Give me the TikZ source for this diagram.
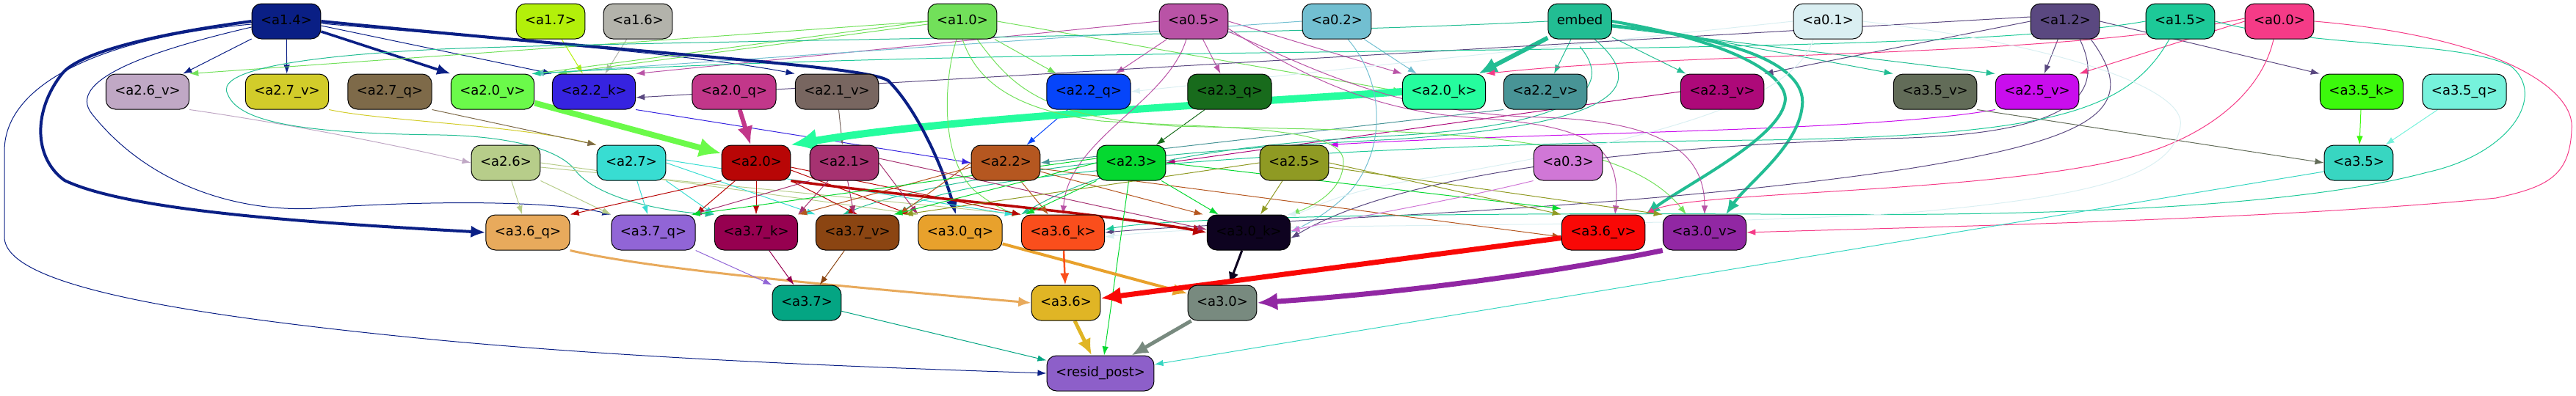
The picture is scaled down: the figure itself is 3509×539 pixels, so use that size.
\documentclass[tikz,border=0pt]{standalone}
\usepackage{fontspec}
\setmainfont{DejaVu Sans}
\usetikzlibrary{arrows.meta,backgrounds}
\definecolor{k14}{HTML}{0A1F85}\definecolor{k17}{HTML}{B3F00A}\definecolor{k16}{HTML}{B3B3AB}
\definecolor{k10}{HTML}{72E05A}\definecolor{k05}{HTML}{B953A6}\definecolor{k02}{HTML}{72BFD1}
\definecolor{kemb}{HTML}{22BD93}\definecolor{k01}{HTML}{DAEFF2}\definecolor{k12}{HTML}{5A4880}
\definecolor{k15}{HTML}{1DC998}\definecolor{k00}{HTML}{F53B87}
\definecolor{k26v}{HTML}{C0A8C5}\definecolor{k27v}{HTML}{D2CC2A}\definecolor{k27q}{HTML}{7E6A49}
\definecolor{k20v}{HTML}{6BFA4A}\definecolor{k22k}{HTML}{3623E0}\definecolor{k20q}{HTML}{C2378A}
\definecolor{k21v}{HTML}{786660}\definecolor{k22q}{HTML}{0645FA}\definecolor{k23q}{HTML}{186B1C}
\definecolor{k20k}{HTML}{25FD9E}\definecolor{k22v}{HTML}{489496}\definecolor{k23v}{HTML}{AD0979}
\definecolor{k35v}{HTML}{626C58}\definecolor{k25v}{HTML}{C90DED}\definecolor{k35k}{HTML}{3CF90C}
\definecolor{k35q}{HTML}{76F2DC}
\definecolor{k26}{HTML}{B7CD8A}\definecolor{k27}{HTML}{38DDD2}\definecolor{k20}{HTML}{B80606}
\definecolor{k21}{HTML}{A63271}\definecolor{k22}{HTML}{B55720}\definecolor{k23}{HTML}{05D830}
\definecolor{k25}{HTML}{8F9A23}\definecolor{k03}{HTML}{D077D6}\definecolor{k35}{HTML}{38D6C1}
\definecolor{k36q}{HTML}{E8AA5C}\definecolor{k37q}{HTML}{9165D6}\definecolor{k37k}{HTML}{960050}
\definecolor{k37v}{HTML}{8B4512}\definecolor{k30q}{HTML}{E8A12C}\definecolor{k36k}{HTML}{FA4E1C}
\definecolor{k30k}{HTML}{0E0320}\definecolor{k36v}{HTML}{F90806}\definecolor{k30v}{HTML}{9127A3}
\definecolor{k37}{HTML}{04A583}\definecolor{k36}{HTML}{E0B525}\definecolor{k30}{HTML}{788A7F}
\definecolor{kres}{HTML}{8D5FC9}
\tikzset{
 nd/.style={draw=black, line width=1pt, rounded corners=13pt, minimum height=48pt,
   inner xsep=12pt, inner ysep=0pt, text height=13.5pt, text depth=4pt,
   font=\fontsize{18}{21}\selectfont, text=black},
 ed/.style={line width=1pt, -{Latex[length=9.5pt 2.6, width=6pt 2.6]}},
}
\begin{document}
\begin{tikzpicture}[x=1pt,y=-1pt]
\useasboundingbox (0,0) rectangle (3509,539);
% row 1
\node[nd,fill=k14] (a14) at (390,29) {<a1.4>};
\node[nd,fill=k17] (a17) at (750,29) {<a1.7>};
\node[nd,fill=k16] (a16) at (869,29) {<a1.6>};
\node[nd,fill=k10] (a10) at (1311,29) {<a1.0>};
\node[nd,fill=k05] (a05) at (1626,29) {<a0.5>};
\node[nd,fill=k02] (a02) at (1821,29) {<a0.2>};
\node[nd,fill=kemb] (emb) at (2152,29) {embed};
\node[nd,fill=k01] (a01) at (2490,29) {<a0.1>};
\node[nd,fill=k12] (a12) at (2813,29) {<a1.2>};
\node[nd,fill=k15] (a15) at (2970,29) {<a1.5>};
\node[nd,fill=k00] (a00) at (3105,29) {<a0.0>};
% row 2
\node[nd,fill=k26v] (a26v) at (201,125) {<a2.6\_v>};
\node[nd,fill=k27v] (a27v) at (391,125) {<a2.7\_v>};
\node[nd,fill=k27q] (a27q) at (531,125) {<a2.7\_q>};
\node[nd,fill=k20v] (a20v) at (671,125) {<a2.0\_v>};
\node[nd,fill=k22k] (a22k) at (809,125) {<a2.2\_k>};
\node[nd,fill=k20q] (a20q) at (1000,125) {<a2.0\_q>};
\node[nd,fill=k21v] (a21v) at (1140,125) {<a2.1\_v>};
\node[nd,fill=k22q] (a22q) at (1483,125) {<a2.2\_q>};
\node[nd,fill=k23q] (a23q) at (1675,125) {<a2.3\_q>};
\node[nd,fill=k20k] (a20k) at (1967,125) {<a2.0\_k>};
\node[nd,fill=k22v] (a22v) at (2105,125) {<a2.2\_v>};
\node[nd,fill=k23v] (a23v) at (2346,125) {<a2.3\_v>};
\node[nd,fill=k35v] (a35v) at (2636,125) {<a3.5\_v>};
\node[nd,fill=k25v] (a25v) at (2775,125) {<a2.5\_v>};
\node[nd,fill=k35k] (a35k) at (3217,125) {<a3.5\_k>};
\node[nd,fill=k35q] (a35q) at (3357,125) {<a3.5\_q>};
% row 3
\node[nd,fill=k26] (a26) at (689,222) {<a2.6>};
\node[nd,fill=k27] (a27) at (860,222) {<a2.7>};
\node[nd,fill=k20] (a20) at (1030,222) {<a2.0>};
\node[nd,fill=k21] (a21) at (1150,222) {<a2.1>};
\node[nd,fill=k22] (a22) at (1370,222) {<a2.2>};
\node[nd,fill=k23] (a23) at (1541,222) {<a2.3>};
\node[nd,fill=k25] (a25) at (1763,222) {<a2.5>};
\node[nd,fill=k03] (a03) at (2136,222) {<a0.3>};
\node[nd,fill=k35] (a35) at (3213,222) {<a3.5>};
% row 4
\node[nd,fill=k36q] (a36q) at (719,317) {<a3.6\_q>};
\node[nd,fill=k37q] (a37q) at (890,317) {<a3.7\_q>};
\node[nd,fill=k37k] (a37k) at (1030,317) {<a3.7\_k>};
\node[nd,fill=k37v] (a37v) at (1168,317) {<a3.7\_v>};
\node[nd,fill=k30q] (a30q) at (1308,317) {<a3.0\_q>};
\node[nd,fill=k36k] (a36k) at (1448,317) {<a3.6\_k>};
\node[nd,fill=k30k] (a30k) at (1701,317) {<a3.0\_k>};
\node[nd,fill=k36v] (a36v) at (2184,317) {<a3.6\_v>};
\node[nd,fill=k30v] (a30v) at (2322,317) {<a3.0\_v>};
% row 5
\node[nd,fill=k37] (a37) at (1099,413) {<a3.7>};
\node[nd,fill=k36] (a36) at (1452,413) {<a3.6>};
\node[nd,fill=k30] (a30) at (1665,413) {<a3.0>};
% row 6
\node[nd,fill=kres] (res) at (1499,509) {<resid\_post>};

\begin{scope}[on background layer]
% ---- row 1 -> row 2
\draw[ed,k14] (a14) -- (a26v);
\draw[ed,k14] (a14) -- (a27v);
\draw[ed,k14,line width=3.5pt] ([yshift=-14pt]a14.east) -- (a20v.north west);
\draw[ed,k14] ([yshift=-6pt]a14.east) -- (a22k.north west);
\draw[ed,k14] ([yshift=-3pt]a14.east) .. controls (700,55) and (950,75) .. (a21v.north west);
\draw[ed,k17] (a17) -- (a22k);
\draw[ed,k16] (a16) -- (a22k);
\draw[ed,k10] (a10.west) -- (a26v.north east);
\draw[ed,k10] (a10.west) -- (a20v.north east);
\draw[ed,k10] ([yshift=-4pt]a10.west) -- ([xshift=8pt]a22k.north west);
\draw[ed,k10] (a10) -- (a22q);
\draw[ed,k10] (a10.east) -- (a20k.west);
\draw[ed,k05] (a05.west) -- (a22k.north east);
\draw[ed,k05] (a05) -- (a22q);
\draw[ed,k05] (a05) -- (a23q);
\draw[ed,k05] (a05.east) -- (a20k.north west);
\draw[ed,k02] (a02.west) -- (a20v.north east);
\draw[ed,k02] (a02) -- (a20k);
\draw[ed,k01] (a01.west) -- (a22q.east);
\draw[ed,kemb,line width=6pt] (emb) -- (a20k);
\draw[ed,kemb] (emb) -- (a22v);
\draw[ed,kemb] (emb) -- (a23v);
\draw[ed,kemb] (emb.east) -- (a35v.north west);
\draw[ed,kemb] ([yshift=-8pt]emb.east) -- (a25v.north west);
\draw[ed,k12] (a12) -- (a25v);
\draw[ed,k12] (a12.west) -- (a23v.north east);
\draw[ed,k12] ([yshift=6pt]a12.west) -- ([yshift=-8pt]a22k.east);
\draw[ed,k12] (a12.east) -- (a35k.north west);
\draw[ed,k00] (a00.west) -- (a25v.north east);
\draw[ed,k00] ([yshift=4pt]a00.west) .. controls (2800,80) and (2300,70) .. (a20k.north east);
\draw[ed,k15] (a15.west) .. controls (2600,85) and (1500,55) .. ([xshift=-4pt]a20v.north east);
% ---- row 2 -> row 3
\draw[ed,k26v] (a26v.south east) .. controls (400,170) and (550,200) .. (a26.west);
\draw[ed,k27v] (a27v.south east) .. controls (520,165) and (700,170) .. (a27.north west);
\draw[ed,k27q] (a27q.south east) -- (a27.north west);
\draw[ed,k20v,line width=8pt] (a20v) -- (a20);
\draw[ed,k22k] (a22k.south east) -- (a22.west);
\draw[ed,k20q,line width=6pt] (a20q) -- (a20);
\draw[ed,k21v] (a21v) -- (a21);
\draw[ed,k22q] (a22q) -- (a22);
\draw[ed,k23q] (a23q) -- (a23);
\draw[ed,k20k,line width=10pt] (a20k.west) .. controls (1700,140) and (1300,160) .. (a20.north east);
\draw[ed,k22v] (a22v.south west) -- (a22.east);
\draw[ed,k23v] (a23v.west) -- (a23.east);
\draw[ed,k25v] (a25v.south west) .. controls (2550,180) and (2100,180) .. (a25.north east);
\draw[ed,k35v] (a35v.south east) -- (a35.west);
\draw[ed,k35k] (a35k) -- (a35);
\draw[ed,k35q] (a35q) -- (a35);
% ---- row 1 -> lower rows (long)
\draw[ed,k14,line width=4pt] (a14.east) .. controls (900,75) and (1180,90) .. (1210,110) .. controls (1250,150) and (1285,230) .. ([xshift=-6pt]a30q.north);
\draw[ed,k14,line width=4pt] (a14.west) .. controls (220,45) and (110,70) .. (85,100) .. controls (45,150) and (45,215) .. (88,246) .. controls (180,290) and (450,305) .. (a36q.west);
\draw[ed,k14] ([yshift=-8pt]a14.west) .. controls (200,70) and (90,110) .. (125,155) .. controls (200,250) and (320,290) .. (430,284) .. controls (600,272) and (760,275) .. (a37q.north west);
\draw[ed,k14] ([yshift=-4pt]a14.west) .. controls (150,50) and (6,110) .. (6,206) -- (6,323) .. controls (6,390) and (250,430) .. (600,464) .. controls (900,492) and (1250,503) .. (res.west);
\draw[ed,kemb] (emb.west) .. controls (1700,50) and (900,55) .. (600,67) .. controls (380,78) and (295,100) .. (310,128) .. controls (325,170) and (430,182) .. (600,184) .. controls (700,186) and (765,205) .. (785,234) .. controls (815,270) and (900,288) .. (a37k.north west);
\draw[ed,kemb] ([yshift=-10pt]emb.south) .. controls (2200,120) and (2150,170) .. (1900,185) .. controls (1600,200) and (1480,240) .. (a36k.north west);
\draw[ed,kemb] ([xshift=20pt]emb.south) .. controls (2250,120) and (2200,170) .. (1900,190) .. controls (1500,210) and (1250,250) .. ([xshift=-20pt]a37v.north);
\draw[ed,kemb,line width=4pt] (emb.east) .. controls (2380,60) and (2440,110) .. (2431,141) .. controls (2420,190) and (2300,250) .. (a36v.north east);
\draw[ed,kemb,line width=4pt] ([yshift=-6pt]emb.east) .. controls (2400,55) and (2460,100) .. (2455,144) .. controls (2450,200) and (2380,250) .. ([xshift=29pt]a30v.north);
\draw[ed,k10] ([xshift=-8pt]a10.south) .. controls (1285,110) and (1280,220) .. (1330,262) .. controls (1350,278) and (1370,288) .. (a36k.north west);
\draw[ed,k10] (a10.south) .. controls (1330,110) and (1380,150) .. (1500,165) .. controls (1650,175) and (1830,170) .. (1830,220) .. controls (1830,260) and (1790,280) .. (a30k.north east);
\draw[ed,k10] ([xshift=20pt]a10.south) .. controls (1380,120) and (1420,160) .. (1600,172) .. controls (1900,180) and (2200,170) .. ([xshift=-25pt]a30v.north);
\draw[ed,k05] ([xshift=-10pt]a05.south) .. controls (1590,140) and (1455,190) .. (a36k.north);
\draw[ed,k05] ([yshift=-10pt]a05.east) .. controls (1760,95) and (1860,150) .. (2000,160) .. controls (2150,170) and (2210,190) .. ([xshift=16pt]a36v.north);
\draw[ed,k05] ([yshift=-14pt]a05.east) .. controls (1780,90) and (1900,155) .. (2100,160) .. controls (2250,165) and (2322,200) .. (a30v.north);
\draw[ed,k02] ([xshift=15pt]a02.south) .. controls (1885,110) and (1890,200) .. (1840,260) .. controls (1810,290) and (1790,300) .. (a30k.east);
\draw[ed,k12] ([xshift=20pt]a12.south) .. controls (2870,130) and (2820,180) .. (2600,188) .. controls (2200,200) and (1900,240) .. ([yshift=-8pt]a30k.east);
\draw[ed,k12] ([xshift=35pt]a12.south) .. controls (2920,150) and (2850,190) .. (2600,230) .. controls (2200,290) and (1700,300) .. (a36k.east);
\draw[ed,k00] (a00.east) .. controls (3400,50) and (3510,120) .. (3503,178) .. controls (3500,240) and (3470,255) .. (3400,270) .. controls (3100,300) and (2600,310) .. (a30v.east);
\draw[ed,k00] ([xshift=-8pt]a00.south) .. controls (3080,130) and (3000,190) .. (2900,215) .. controls (2700,265) and (2300,260) .. (a36v.north east);
\draw[ed,k15] (a15.east) .. controls (3150,65) and (3350,55) .. (3420,90) .. controls (3470,130) and (3420,210) .. (3306,235) .. controls (3100,290) and (2700,295) .. (2400,292) .. controls (2000,290) and (1600,295) .. ([yshift=4pt]a36k.east);
\draw[ed,k15] ([xshift=-15pt]a15.south) .. controls (2900,150) and (2800,185) .. (2400,191) .. controls (1900,195) and (1300,230) .. (a37v.north east);
\draw[ed,k01] (a01.east) .. controls (2800,60) and (2980,120) .. (2970,172) .. controls (2960,240) and (2850,268) .. (2600,290) .. controls (2200,315) and (1700,300) .. ([yshift=-6pt]a36k.east);
\draw[ed,k01] ([xshift=-20pt]a01.south) .. controls (2440,150) and (2200,200) .. (1900,250) .. controls (1800,270) and (1780,290) .. ([xshift=-5pt]a30k.north east);
% ---- row 3 -> row 4
\draw[ed,k26] (a26) -- (a36q);
\draw[ed,k26] (a26.south east) -- (a37q.north west);
\draw[ed,k26] (a26.east) -- (a30q.north west);
\draw[ed,k26] ([yshift=-6pt]a26.east) -- (a36k.north west);
\draw[ed,k27] (a27) -- (a37q);
\draw[ed,k27] (a27.south east) -- (a37k.north west);
\draw[ed,k27] (a27.east) -- (a37v.north west);
\draw[ed,k27] ([yshift=4pt]a27.east) -- ([xshift=-10pt]a36k.north west);
\draw[ed,k20] (a20.south west) -- (a36q.north east);
\draw[ed,k20] (a20) -- (a37q.north east);
\draw[ed,k20] (a20) -- (a37k);
\draw[ed,k20] (a20.south east) -- (a37v.north);
\draw[ed,k20] ([yshift=-10pt]a20.east) -- ([xshift=-10pt]a30q.north west);
\draw[ed,k20] ([yshift=-6pt]a20.east) -- (a36k.north west);
\draw[ed,k20,line width=3.5pt] (a20.south east) .. controls (1250,270) and (1500,290) .. (a30k.west);
\draw[ed,k21] (a21.south west) -- ([xshift=-4pt]a37q.north east);
\draw[ed,k21] (a21) -- (a37k.north east);
\draw[ed,k21] (a21) -- (a37v);
\draw[ed,k21] (a21.east) -- (a30q.north west);
\draw[ed,k21] ([yshift=6pt]a21.east) -- ([yshift=4pt]a30k.west);
\draw[ed,k22] (a22.west) -- (a37v.north east);
\draw[ed,k22] ([yshift=-6pt]a22.west) -- (a37k.north east);
\draw[ed,k22] (a22) -- (a36k);
\draw[ed,k22] ([yshift=-12pt]a22.east) -- ([xshift=-5pt]a30k.north west);
\draw[ed,k22] ([yshift=-8pt]a22.east) -- ([yshift=-6pt]a36v.west);
\draw[ed,k23] (a23.west) -- ([xshift=-8pt]a37v.north east);
\draw[ed,k23] ([yshift=6pt]a23.west) -- ([xshift=-6pt]a37q.north east);
\draw[ed,k23] (a23.south west) -- ([xshift=6pt]a36k.north west);
\draw[ed,k23] (a23) -- (a30k);
\draw[ed,k23] (a23.east) -- ([yshift=8pt]a36v.north west);
\draw[ed,k23] (a23) -- ([xshift=5pt]res.north);
\draw[ed,k25] (a25) -- (a30k);
\draw[ed,k25] (a25.east) -- (a36v.north west);
\draw[ed,k25] ([yshift=-6pt]a25.east) -- (a30v.north west);
\draw[ed,k25] (a25.west) -- ([xshift=6pt]a37v.north east);
\draw[ed,k03] (a03.south west) .. controls (1950,280) and (1820,300) .. ([yshift=2pt]a30k.east);
% ---- row 4 -> row 5
\draw[ed,k36q,line width=3pt] (a36q.south east) .. controls (900,370) and (1200,395) .. (a36.west);
\draw[ed,k37q] (a37q.south east) -- (a37.north west);
\draw[ed,k37k] (a37k) -- (a37);
\draw[ed,k37v] (a37v) -- (a37);
\draw[ed,k30q,line width=4pt] (a30q) -- (a30);
\draw[ed,k36k,line width=2.5pt] (a36k) -- (a36);
\draw[ed,k30k,line width=3pt] (a30k) -- (a30);
\draw[ed,k36v,line width=7pt] (a36v) -- (a36);
\draw[ed,k30v,line width=7pt] (a30v.south west) .. controls (2100,375) and (1900,400) .. (a30.east);
% ---- row 5 -> resid_post
\draw[ed,k37] (a37) -- (res);
\draw[ed,k36,line width=5pt] (a36) -- (res);
\draw[ed,k30,line width=5pt] (a30) -- (res);
\draw[ed,k35] ([yshift=-12pt]a35.west) -- (res);
\end{scope}
\end{tikzpicture}
\end{document}
